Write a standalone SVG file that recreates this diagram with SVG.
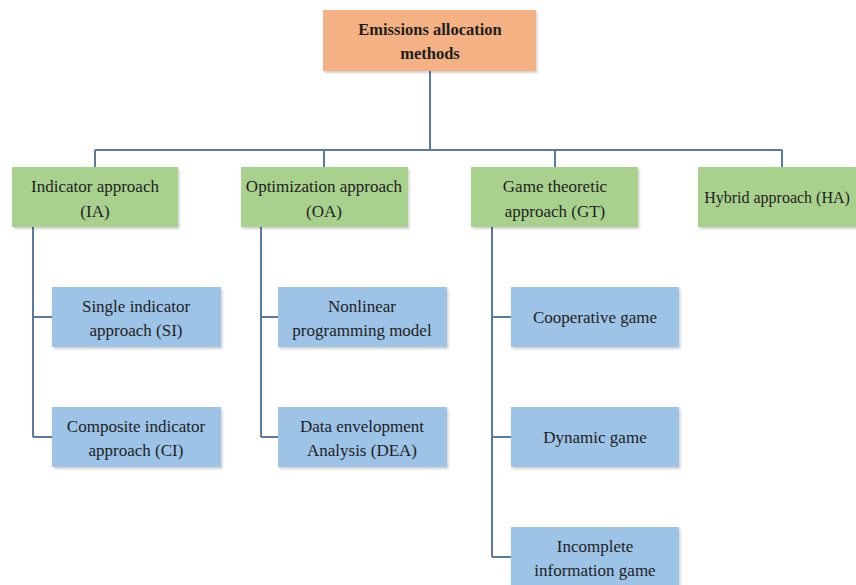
<svg xmlns="http://www.w3.org/2000/svg" width="856" height="585" viewBox="0 0 856 585">
<defs>
<filter id="sh" x="-5%" y="-5%" width="115%" height="120%">
<feDropShadow dx="1.5" dy="2" stdDeviation="1.2" flood-color="#000" flood-opacity="0.18"/>
</filter>
</defs>
<style>
.t{font-family:"Liberation Serif","Times New Roman",serif;font-size:17px;fill:#1e1e1e;text-anchor:middle}
.b{font-weight:bold;font-size:16.5px}
.root{fill:#F4B183}
.g{fill:#A9D18E}
.bl{fill:#9DC3E6}
.c{fill:none;stroke:#5A7A9E;stroke-width:2}
</style>
<rect width="856" height="585" fill="#fff"/>
<g id="connectors">
<path class="c" d="M430 71V150M95 150H782M95 150V167M324 150V167M555 150V167M782 150V167"/>
<path class="c" d="M33 227V437M33 317H52M33 437H52"/>
<path class="c" d="M261 227V437M261 317H278M261 437H278"/>
<path class="c" d="M492 227V557M492 317H511M492 437H511M492 557H511"/>
</g>
<g id="root"><rect class="root" x="323" y="10" width="213" height="61" filter="url(#sh)"/>
<text class="t b" x="430" y="35">Emissions allocation</text><text class="t b" x="430" y="59">methods</text></g>
<g id="ia"><rect class="g" x="12" y="167" width="166" height="60" filter="url(#sh)"/>
<text class="t" x="95" y="192">Indicator approach</text><text class="t" x="95" y="217">(IA)</text></g>
<g id="oa"><rect class="g" x="241" y="167" width="167" height="60" filter="url(#sh)"/>
<text class="t" x="324" y="192">Optimization approach</text><text class="t" x="324" y="217">(OA)</text></g>
<g id="gt"><rect class="g" x="471" y="167" width="167" height="60" filter="url(#sh)"/>
<text class="t" x="555" y="192">Game theoretic</text><text class="t" x="555" y="217">approach (GT)</text></g>
<g id="ha"><rect class="g" x="698" y="167" width="158" height="60" filter="url(#sh)"/>
<text class="t" x="777" y="203" style="font-size:16px">Hybrid approach (HA)</text></g>
<g id="si"><rect class="bl" x="52" y="287" width="169" height="60" filter="url(#sh)"/>
<text class="t" x="136" y="312">Single indicator</text><text class="t" x="136" y="336">approach (SI)</text></g>
<g id="ci"><rect class="bl" x="52" y="407" width="169" height="60" filter="url(#sh)"/>
<text class="t" x="136" y="432">Composite indicator</text><text class="t" x="136" y="456">approach (CI)</text></g>
<g id="np"><rect class="bl" x="278" y="287" width="169" height="60" filter="url(#sh)"/>
<text class="t" x="362" y="312">Nonlinear</text><text class="t" x="362" y="336">programming model</text></g>
<g id="dea"><rect class="bl" x="278" y="407" width="169" height="60" filter="url(#sh)"/>
<text class="t" x="362" y="432">Data envelopment</text><text class="t" x="362" y="456">Analysis (DEA)</text></g>
<g id="cg"><rect class="bl" x="511" y="287" width="168" height="60" filter="url(#sh)"/>
<text class="t" x="595" y="323">Cooperative game</text></g>
<g id="dg"><rect class="bl" x="511" y="407" width="168" height="60" filter="url(#sh)"/>
<text class="t" x="595" y="443">Dynamic game</text></g>
<g id="ig"><rect class="bl" x="511" y="527" width="168" height="62" filter="url(#sh)"/>
<text class="t" x="595" y="552">Incomplete</text><text class="t" x="595" y="576">information game</text></g>
</svg>
